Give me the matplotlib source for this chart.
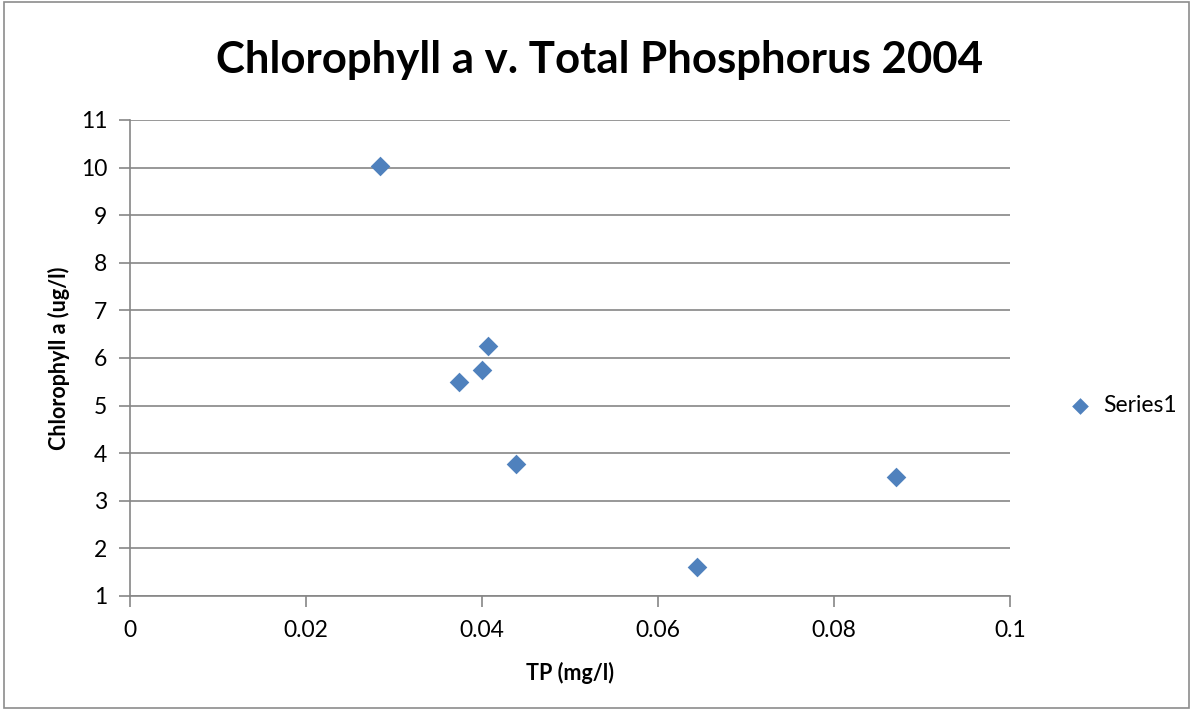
import matplotlib.pyplot as plt
from matplotlib.patches import Rectangle

# Data
tp = [0.0284, 0.0374, 0.0400, 0.0407, 0.0439, 0.0645, 0.0870]
chl = [10.04, 5.50, 5.75, 6.25, 3.77, 1.61, 3.50]
x_ticks = [0, 0.02, 0.04, 0.06, 0.08, 0.1]
x_labels = ["0", "0.02", "0.04", "0.06", "0.08", "0.1"]
y_ticks = list(range(1, 12))

plt.rcParams['font.family'] = ['Lato', 'DejaVu Sans']

W, H = 1193, 715
fig = plt.figure(figsize=(W / 100, H / 100), dpi=100)
fig.patches.append(Rectangle((4 / W, 7 / H), 1 - 8 / W, 1 - 9 / H, transform=fig.transFigure,
                             fill=False, edgecolor='#8c8c8c', linewidth=1.2))

ax = fig.add_axes([129.5 / W, (H - 596) / H, (1010 - 129.5) / W, (596 - 120) / H])
grid_col = '#868686'

ax.scatter(tp, chl, marker='D', s=100, color='#4F81BD', zorder=3, label='Series1', linewidths=0)

ax.set_xlim(0, 0.1)
ax.set_ylim(1, 11)
ax.set_xticks(x_ticks)
ax.set_xticklabels(x_labels)
ax.set_yticks(y_ticks)
ax.yaxis.grid(True, color=grid_col, linewidth=1.2)
ax.set_axisbelow(True)

for s in ['top', 'right']:
    ax.spines[s].set_visible(False)
for s in ['left', 'bottom']:
    ax.spines[s].set_color(grid_col)
    ax.spines[s].set_linewidth(1.2)

ax.tick_params(axis='both', direction='out', length=8, width=1.2, color=grid_col,
               labelsize=16.5, labelcolor='black')
ax.tick_params(axis='x', pad=9)
ax.tick_params(axis='y', pad=8)

ax.set_xlabel('TP (mg/l)', fontsize=15.5, fontweight='bold', labelpad=15)
ax.set_ylabel('Chlorophyll a (ug/l)', fontsize=15.5, fontweight='bold', labelpad=8)

fig.text(600 / W, 1 - 60 / H, 'Chlorophyll a v. Total Phosphorus 2004', fontsize=31.5,
         fontweight='bold', ha='center', va='center')

ax.legend(loc='center left', bbox_to_anchor=(1.03, 0.4), frameon=False, fontsize=16.5,
          handletextpad=0.0, markerscale=0.85)

fig.savefig('out.png', dpi=100)
